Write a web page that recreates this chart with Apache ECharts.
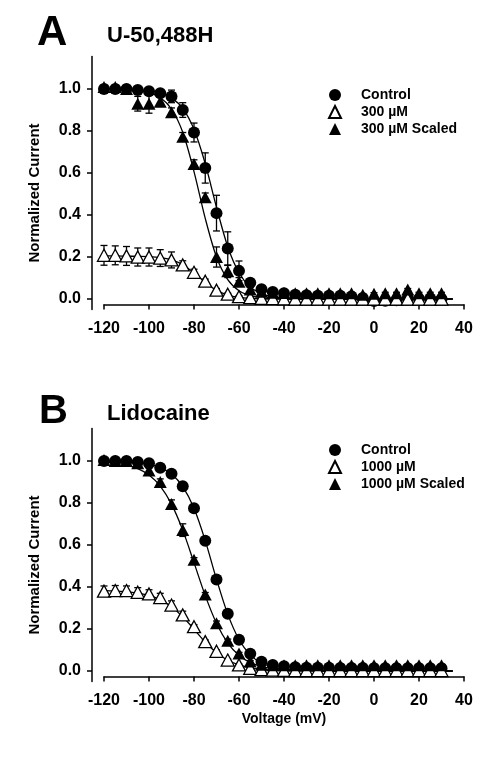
<!DOCTYPE html>
<html>
<head>
<meta charset="utf-8">
<script src="https://cdn.jsdelivr.net/npm/echarts@6/dist/echarts.min.js"></script>
<style>html,body{margin:0;padding:0;background:#fff;}#c{width:500px;height:757px;}</style>
</head>
<body>
<div id="c"></div>
<script>
// ---- data ----
const voltage = [-120,-115,-110,-105,-100,-95,-90,-85,-80,-75,-70,-65,-60,-55,-50,-45,-40,-35,-30,-25,-20,-15,-10,-5,0,5,10,15,20,25,30];
const xTicks = [-120,-100,-80,-60,-40,-20,0,20,40];
const yTicks = [0,0.2,0.4,0.6,0.8,1.0];

// Panel A: U-50,488H
const ctrlA     = [1.0,1.0,1.0,0.995,0.99,0.98,0.965,0.90,0.793,0.624,0.409,0.24,0.134,0.077,0.046,0.033,0.027,0.02,0.018,0.016,0.015,0.015,0.012,0.005,-0.01,-0.008,-0.006,0.005,0.0,0.002,0.0];
const ctrlAErr  = [0.005,0.005,0.005,0.01,0.01,0.015,0.03,0.035,0.045,0.072,0.085,0.08,0.047,0.02,0.01,0.008,0.005,0.005,0.005,0.005,0.005,0.005,0.005,0.005,0.005,0.005,0.005,0.005,0.005,0.005,0.005];
const drugA     = [0.208,0.208,0.205,0.2,0.2,0.195,0.186,0.162,0.127,0.085,0.042,0.023,0.011,0.006,0.003,0.002,0.001,0.0,0.0,0.0,0.0,0.0,0.0,0.0,0.0,0.0,0.0,0.0,0.0,0.0,0.0];
const drugAErr  = [0.047,0.045,0.045,0.043,0.043,0.04,0.038,0.02,0.015,0.01,0.008,0.005,0.004,0.003,0.003,0.003,0.003,0.003,0.003,0.003,0.003,0.003,0.003,0.003,0.003,0.003,0.003,0.003,0.003,0.003,0.003];
const scaledA   = [1.01,1.01,1.0,0.93,0.93,0.94,0.89,0.773,0.643,0.485,0.2,0.132,0.082,0.045,0.035,0.03,0.028,0.027,0.027,0.027,0.027,0.027,0.027,0.02,0.025,0.027,0.027,0.045,0.027,0.027,0.027];
const scaledAErr= [0.01,0.01,0.01,0.035,0.045,0.02,0.02,0.02,0.02,0.02,0.048,0.03,0.02,0.01,0.008,0.005,0.005,0.005,0.005,0.005,0.005,0.005,0.005,0.005,0.005,0.005,0.005,0.005,0.005,0.005,0.005];

// Panel B: Lidocaine
const ctrlB     = [1.0,1.0,1.0,0.995,0.99,0.968,0.94,0.88,0.775,0.62,0.436,0.273,0.149,0.082,0.044,0.029,0.023,0.018,0.016,0.015,0.015,0.014,0.014,0.014,0.013,0.013,0.013,0.013,0.013,0.013,0.013];
const ctrlBErr  = [0.005,0.005,0.005,0.005,0.008,0.008,0.008,0.01,0.01,0.01,0.01,0.01,0.008,0.006,0.005,0.005,0.005,0.005,0.005,0.005,0.005,0.005,0.005,0.005,0.005,0.005,0.005,0.005,0.005,0.005,0.005];
const drugB     = [0.38,0.383,0.383,0.375,0.367,0.35,0.314,0.267,0.211,0.14,0.094,0.052,0.029,0.013,0.006,0.004,0.003,0.002,0.002,0.002,0.002,0.002,0.002,0.002,0.002,0.002,0.002,0.002,0.002,0.002,0.002];
const drugBErr  = [0.025,0.024,0.022,0.022,0.02,0.02,0.02,0.018,0.01,0.008,0.006,0.005,0.004,0.003,0.003,0.003,0.003,0.003,0.003,0.003,0.003,0.003,0.003,0.003,0.003,0.003,0.003,0.003,0.003,0.003,0.003];
const scaledB   = [1.005,1.0,1.0,0.99,0.955,0.90,0.795,0.671,0.53,0.364,0.228,0.144,0.083,0.045,0.03,0.027,0.027,0.027,0.027,0.027,0.027,0.027,0.027,0.027,0.027,0.027,0.027,0.027,0.027,0.027,0.027];
const scaledBErr= [0.005,0.005,0.005,0.008,0.01,0.015,0.02,0.03,0.01,0.01,0.01,0.008,0.006,0.005,0.005,0.005,0.005,0.005,0.005,0.005,0.005,0.005,0.005,0.005,0.005,0.005,0.005,0.005,0.005,0.005,0.005];

// Fitted curves
const fitV       = [-120,-115,-110,-105,-100,-95,-90,-85,-80,-75,-70,-65,-60,-55,-50,-45,-40,-35,-30,-25,-20,-15,-10,-5,0,5,10,15,20,25,30,35];
const fitCtrlA   = [1.0,0.999,0.998,0.996,0.992,0.982,0.958,0.908,0.808,0.644,0.437,0.249,0.125,0.057,0.026,0.011,0.005,0.002,0.001,0,0,0,0,0,0,0,0,0,0,0,0,0];
const fitScaledA = [1.0,0.999,0.997,0.993,0.983,0.96,0.905,0.794,0.607,0.384,0.2,0.092,0.039,0.016,0.007,0.003,0.001,0,0,0,0,0,0,0,0,0,0,0,0,0,0,0];
const fitDrugA   = [0.205,0.205,0.204,0.203,0.2015,0.197,0.186,0.163,0.124,0.079,0.041,0.019,0.008,0.003,0.001,0,0,0,0,0,0,0,0,0,0,0,0,0,0,0,0,0];
const fitCtrlB   = [0.999,0.998,0.997,0.993,0.985,0.969,0.938,0.878,0.775,0.621,0.437,0.271,0.150,0.077,0.038,0.019,0.009,0.004,0.002,0.001,0,0,0,0,0,0,0,0,0,0,0,0];
const fitScaledB = [0.995,0.99,0.981,0.964,0.934,0.881,0.795,0.671,0.516,0.359,0.227,0.133,0.075,0.04,0.022,0.011,0.006,0.003,0.002,0.001,0,0,0,0,0,0,0,0,0,0,0,0];
const fitDrugB   = [0.383,0.381,0.378,0.371,0.36,0.339,0.306,0.258,0.199,0.138,0.087,0.051,0.029,0.015,0.008,0.004,0.002,0.001,0.001,0,0,0,0,0,0,0,0,0,0,0,0,0];

const namesA = ['Control','300 µM','300 µM Scaled'];
const namesB = ['Control','1000 µM','1000 µM Scaled'];

// ---- chart ----
const FONT = '"Liberation Sans", Arial, Helvetica, sans-serif';
const chart = echarts.init(document.getElementById('c'), null, {renderer:'canvas'});

function pairs(xs, ys){ return xs.map((x,i)=>[x, ys[i]]); }

function errSeries(idx, vals, errs){
  return {
    type:'custom', xAxisIndex:idx, yAxisIndex:idx, silent:true, clip:false, z:2,
    data: voltage.map((v,i)=>[v, vals[i]-errs[i], vals[i]+errs[i]]),
    renderItem:(params, api)=>{
      const x = api.value(0);
      const lo = api.coord([x, api.value(1)]);
      const hi = api.coord([x, api.value(2)]);
      const w = 3.5;
      const st = {stroke:'#000', lineWidth:1.3};
      return {type:'group', children:[
        {type:'line', shape:{x1:lo[0],y1:lo[1],x2:hi[0],y2:hi[1]}, style:st},
        {type:'line', shape:{x1:hi[0]-w,y1:hi[1],x2:hi[0]+w,y2:hi[1]}, style:st},
        {type:'line', shape:{x1:lo[0]-w,y1:lo[1],x2:lo[0]+w,y2:lo[1]}, style:st}
      ]};
    }
  };
}
function fitSeries(idx, ys){
  return {type:'line', xAxisIndex:idx, yAxisIndex:idx, data:pairs(fitV, ys), showSymbol:false, symbol:'none',
    smooth:0.3, silent:true, clip:false, z:3,
    lineStyle:{color:'#000', width:1.3}};
}
function markSeries(idx, name, ys, kind, z){
  const s = {type:'scatter', name:name, xAxisIndex:idx, yAxisIndex:idx, data:pairs(voltage, ys), clip:false, z:z,
    symbolSize: kind==='circle' ? 12 : [13,12], silent:true};
  if (kind==='circle'){ s.symbol='circle'; s.itemStyle={color:'#000', opacity:1}; }
  else if (kind==='open'){ s.symbol='triangle'; s.itemStyle={color:'#fff', borderColor:'#000', borderWidth:1.3, opacity:1}; }
  else { s.symbol='triangle'; s.itemStyle={color:'#000', opacity:1}; }
  return s;
}

const gridTops = [56.5, 428.5];
const grids = gridTops.map(t=>({left:104, top:t, width:360, height:253, outerBoundsMode:'none', containLabel:false}));

const xAxes = [0,1].map(i=>({
  type:'value', gridIndex:i, min:-120, max:40, interval:20, offset:-5,
  axisLine:{show:true, onZero:false, lineStyle:{color:'#000', width:1.5}},
  axisTick:{show:true, length:5, lineStyle:{color:'#000', width:1.5}},
  axisLabel:{show:true, color:'#000', fontFamily:FONT, fontWeight:'bold', fontSize:16, margin:16,
    formatter:v=> xTicks.indexOf(v)>=0 ? String(v) : ''},
  splitLine:{show:false},
  name: i===1 ? 'Voltage (mV)' : '', nameLocation:'middle', nameGap:36,
  nameTextStyle:{color:'#000', fontFamily:FONT, fontWeight:'bold', fontSize:14}
}));
const yAxes = [0,1].map(i=>({
  type:'value', gridIndex:i, min:-0.05, max:1.155, offset:12,
  axisLine:{show:true, onZero:false, lineStyle:{color:'#000', width:1.5}},
  axisTick:{show:true, length:5, customValues:yTicks, lineStyle:{color:'#000', width:1.5}},
  axisLabel:{show:true, customValues:yTicks, color:'#000', fontFamily:FONT, fontWeight:'bold', fontSize:16, margin:11,
    formatter:v=>v.toFixed(1)},
  splitLine:{show:false},
  name:'Normalized Current', nameLocation:'middle', nameGap:50,
  nameTextStyle:{color:'#000', fontFamily:FONT, fontWeight:'bold', fontSize:15, padding:[0,20,0,0]}
}));

const series = [
  fitSeries(0, fitCtrlA), fitSeries(0, fitScaledA), fitSeries(0, fitDrugA),
  errSeries(0, ctrlA, ctrlAErr), markSeries(0, namesA[0], ctrlA, 'circle', 4),
  errSeries(0, drugA, drugAErr), markSeries(0, namesA[1], drugA, 'open', 5),
  errSeries(0, scaledA, scaledAErr), markSeries(0, namesA[2], scaledA, 'filled', 6),
  fitSeries(1, fitCtrlB), fitSeries(1, fitScaledB), fitSeries(1, fitDrugB),
  errSeries(1, ctrlB, ctrlBErr), markSeries(1, namesB[0], ctrlB, 'circle', 4),
  errSeries(1, drugB, drugBErr), markSeries(1, namesB[1], drugB, 'open', 5),
  errSeries(1, scaledB, scaledBErr), markSeries(1, namesB[2], scaledB, 'filled', 6)
];

function legend(top, data){
  return {orient:'vertical', left:328, top:top, data:data, selectedMode:false, padding:0,
    itemWidth:12, itemHeight:12, itemGap:3,
    textStyle:{color:'#000', fontFamily:FONT, fontWeight:'bold', fontSize:14, padding:[0,0,0,15]}};
}

const titleStyle = (fs)=>({color:'#000', fontFamily:FONT, fontWeight:'bold', fontSize:fs});
chart.setOption({
  animation:false,
  backgroundColor:'#fff',
  title:[
    {text:'A', left:37, top:12, padding:0, textStyle:titleStyle(42)},
    {text:'U-50,488H', left:107, top:25, padding:0, textStyle:titleStyle(22)},
    {text:'B', left:39, top:392, padding:0, textStyle:titleStyle(40)},
    {text:'Lidocaine', left:107, top:403, padding:0, textStyle:titleStyle(22)}
  ],
  legend:[legend(88, namesA), legend(443, namesB)],
  grid:grids, xAxis:xAxes, yAxis:yAxes, series:series
});
</script>
</body>
</html>
